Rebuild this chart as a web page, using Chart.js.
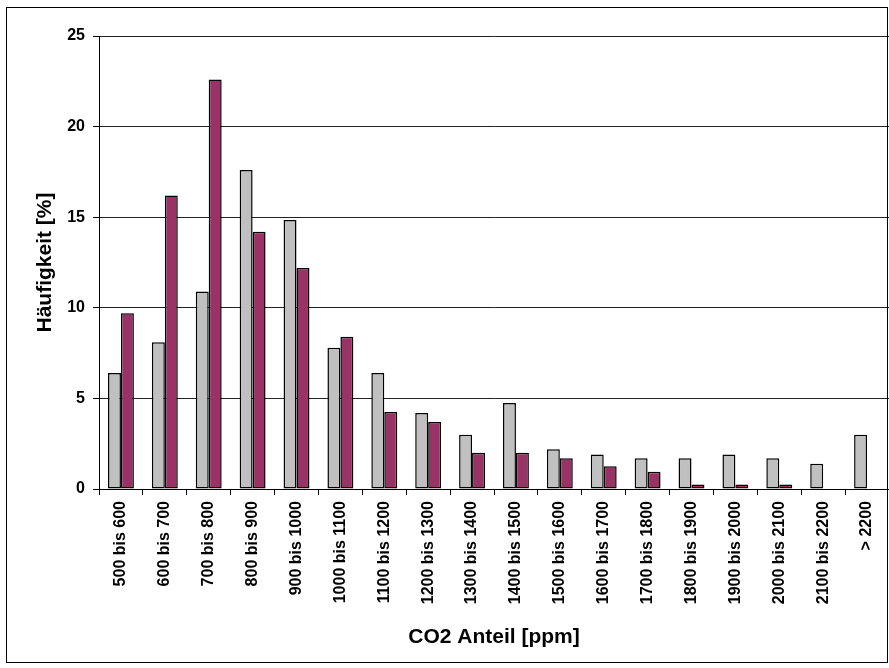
<!DOCTYPE html>
<html>
<head>
<meta charset="utf-8">
<script src="https://cdn.jsdelivr.net/npm/chart.js@4/dist/chart.umd.min.js"></script>
<style>
  html, body { margin: 0; padding: 0; background: #fff; }
  #wrap { position: relative; width: 889px; height: 668px; }
</style>
</head>
<body>
<div id="wrap"><canvas id="co2-chart" width="889" height="668"></canvas></div>
<script>
const categories = ["500 bis 600", "600 bis 700", "700 bis 800", "800 bis 900", "900 bis 1000",
    "1000 bis 1100", "1100 bis 1200", "1200 bis 1300", "1300 bis 1400", "1400 bis 1500",
    "1500 bis 1600", "1600 bis 1700", "1700 bis 1800", "1800 bis 1900", "1900 bis 2000",
    "2000 bis 2100", "2100 bis 2200", "> 2200"];

const seriesGray = [6.4, 8.1, 10.9, 17.6, 14.85, 7.8, 6.4, 4.2, 3.0, 4.75, 2.2, 1.9, 1.7, 1.7, 1.9, 1.7, 1.4, 3.0];
const seriesRed = [9.7, 16.2, 22.6, 14.2, 12.2, 8.4, 4.25, 3.7, 2.0, 2.0, 1.7, 1.25, 0.95, 0.25, 0.25, 0.25, 0, 0];

const yTicks = [0, 5, 10, 15, 20, 25];

const fontFamily = '"Liberation Sans", Arial, sans-serif';

// outer frame around the whole chart
const framePlugin = {
    id: 'frame',
    afterDraw(chart) {
        const ctx = chart.ctx;
        ctx.save();
        ctx.strokeStyle = '#000';
        ctx.lineWidth = 1;
        ctx.strokeRect(6.5, 7.5, 881, 655);
        ctx.restore();
    }
};

const data = {
    labels: categories,
    datasets: [{
        label: 'Serie 1',
        data: seriesGray,
        backgroundColor: '#C0C0C0',
        borderColor: '#000',
        borderWidth: 1.5,
        borderSkipped: false
    }, {
        label: 'Serie 2',
        data: seriesRed,
        backgroundColor: '#993366',
        borderColor: '#000',
        borderWidth: 1.5,
        borderSkipped: false
    }]
};

const config = {
    type: 'bar',
    data: data,
    options: {
        responsive: false,
        animation: false,
        layout: {
            padding: { left: 0, top: 36, right: 0, bottom: 0 }
        },
        datasets: {
            bar: {
                categoryPercentage: 0.59,
                barPercentage: 1.0
            }
        },
        plugins: {
            legend: { display: false },
            tooltip: { enabled: false }
        },
        scales: {
            x: {
                offset: true,
                afterFit: scale => {
                    scale.height = 179;
                    scale.paddingLeft = 0;
                    scale.paddingRight = 0;
                },
                grid: {
                    offset: true,
                    drawOnChartArea: false,
                    drawTicks: true,
                    tickLength: 6,
                    color: '#000'
                },
                border: { color: '#000', width: 1 },
                ticks: {
                    minRotation: 90,
                    maxRotation: 90,
                    autoSkip: false,
                    padding: 6,
                    color: '#000',
                    font: { family: fontFamily, size: 16, weight: 'bold' }
                },
                title: {
                    display: true,
                    text: 'CO2 Anteil [ppm]',
                    color: '#000',
                    padding: { top: 0, bottom: 18 },
                    font: { family: fontFamily, size: 21, weight: 'bold' }
                }
            },
            y: {
                min: 0,
                max: 25,
                afterFit: scale => { scale.width = 99; },
                afterBuildTicks: scale => {
                    scale.ticks = yTicks.map(v => ({ value: v }));
                },
                grid: {
                    color: '#222',
                    lineWidth: 1,
                    drawTicks: true,
                    tickLength: 6,
                    tickColor: '#000'
                },
                border: { color: '#000', width: 1 },
                ticks: {
                    padding: 8,
                    color: '#000',
                    font: { family: fontFamily, size: 16, weight: 'bold' }
                },
                title: {
                    display: true,
                    text: 'Häufigkeit [%]',
                    color: '#000',
                    padding: { top: 33, bottom: 0 },
                    font: { family: fontFamily, size: 21, weight: 'bold' }
                }
            }
        }
    },
    plugins: [framePlugin]
};

const myChart = new Chart(document.getElementById('co2-chart'), config);
</script>
</body>
</html>
